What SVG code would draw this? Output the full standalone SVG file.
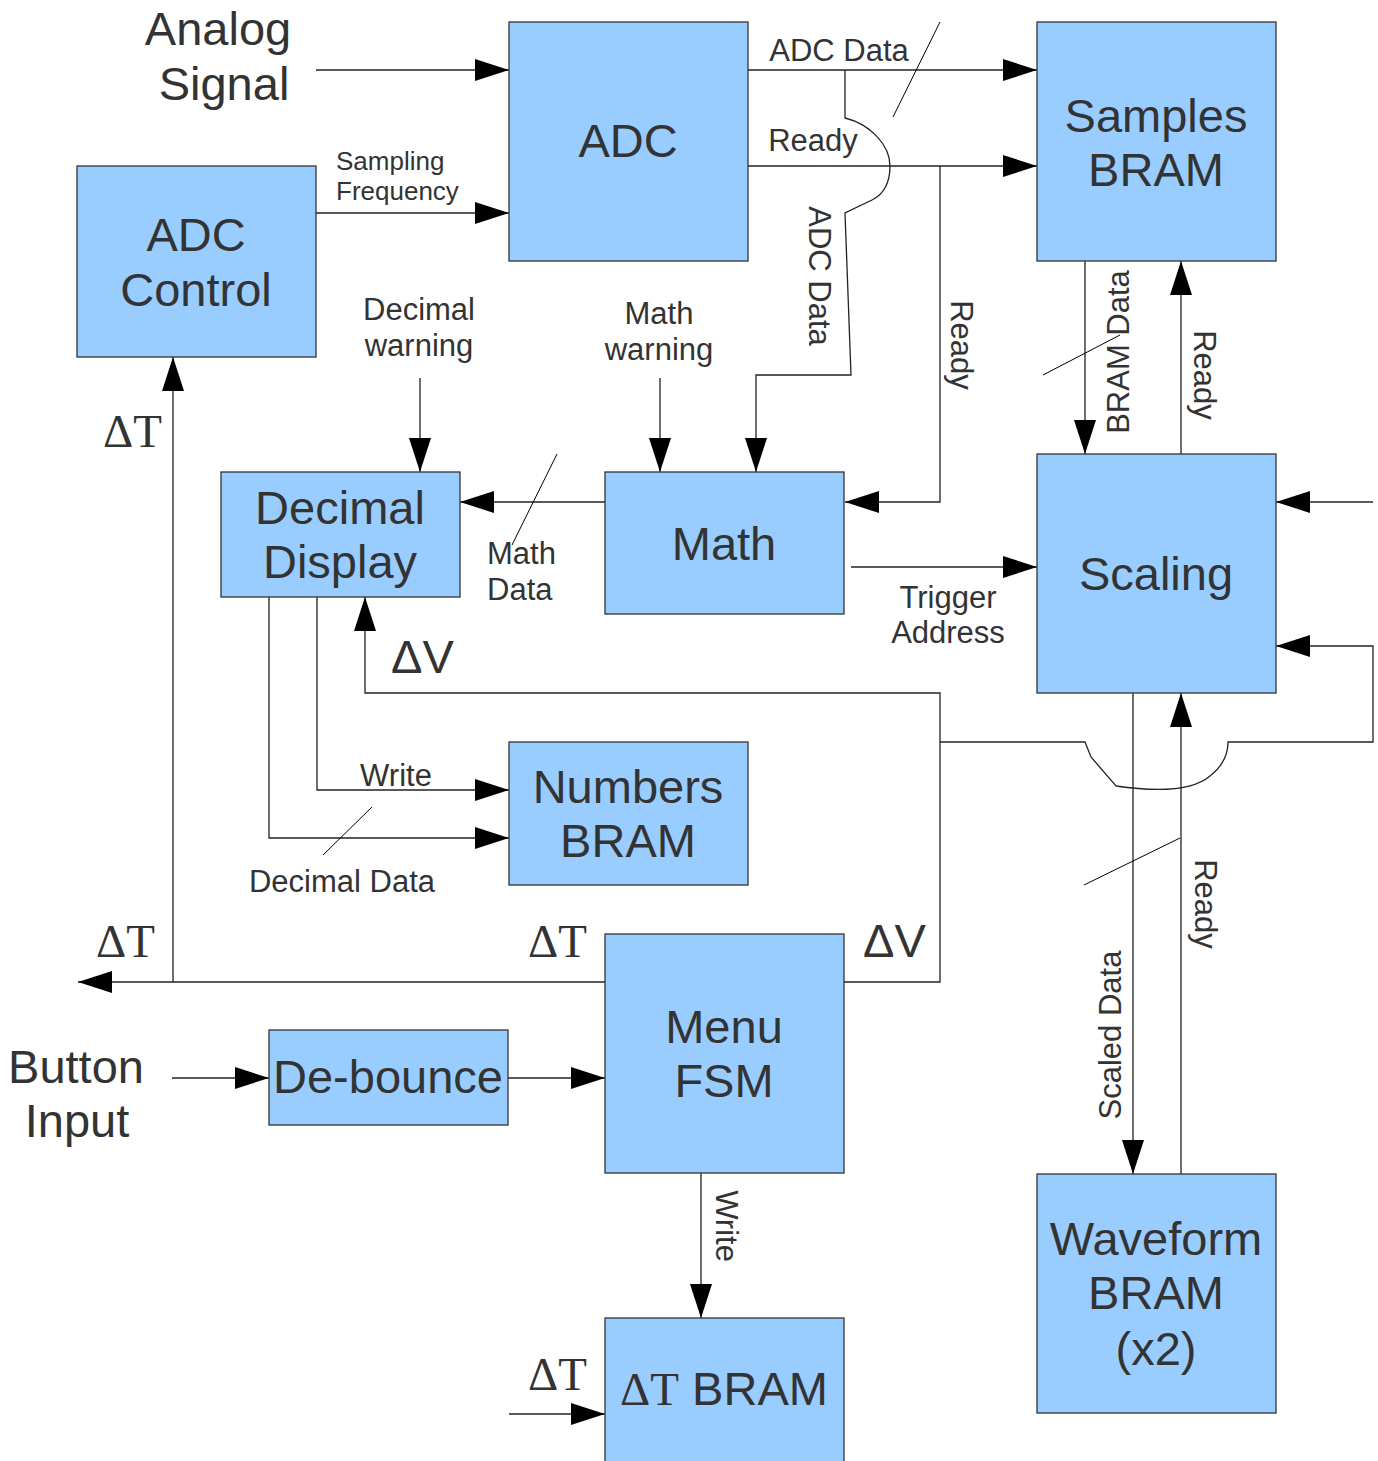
<svg xmlns="http://www.w3.org/2000/svg" width="1378" height="1461" viewBox="0 0 1378 1461">
<style>
.box{fill:#99ccff;stroke:#333;stroke-width:1.3}
.nt{font-family:"Liberation Sans",Arial,sans-serif;font-size:47px;fill:#333;text-anchor:middle}
.lt{font-family:"Liberation Sans",Arial,sans-serif;font-size:31px;fill:#333;text-anchor:middle}
.st{font-family:"Liberation Sans",Arial,sans-serif;font-size:26px;fill:#333}
.dl{font-family:"Liberation Serif","Times New Roman",serif;font-size:47px;fill:#333}
.dv{font-family:"Liberation Sans",Arial,sans-serif;font-size:47px;fill:#333}
.w{fill:none;stroke:#222;stroke-width:1.3}
.a{marker-end:url(#ah)}
.sl{fill:none;stroke:#000;stroke-width:1}
</style>
<defs>
<marker id="ah" markerUnits="userSpaceOnUse" markerWidth="34" markerHeight="22" refX="34" refY="11" orient="auto" viewBox="0 0 34 22">
<path d="M0,0 L34,11 L0,22 z" fill="#000"/>
</marker>
</defs>

<g id="connectors">
<path class="w a" d="M316,70 H509"/>
<path class="w a" d="M748,70 H1037"/>
<path class="w a" d="M748,166 H1037"/>
<path class="w a" d="M316,213 H509"/>
<path class="w a" d="M845,70 V118 C870,124 890,145 890,166 C890,185 882,195 872,200 L845,213 L851,375 H756 V472"/>
<path class="w a" d="M940,166 V502 H845"/>
<path class="w a" d="M605,502 H460"/>
<path class="w a" d="M420,378 V472"/>
<path class="w a" d="M660,378 V472"/>
<path class="w a" d="M851,567 H1037"/>
<path class="w a" d="M1085,261 V454"/>
<path class="w a" d="M1181,454 V261"/>
<path class="w a" d="M1373,502 H1276"/>
<path class="w a" d="M844,982 H940 V693 H365 V597"/>
<path class="w a" d="M940,742 H1085 L1091,757 L1116,786 C1150,791 1190,793 1210,776 C1224,765 1228,752 1228,742 H1373 V646 H1276"/>
<path class="w a" d="M1133,693 V1174"/>
<path class="w a" d="M1181,1174 V693"/>
<path class="w a" d="M317,597 V790 H509"/>
<path class="w a" d="M269,597 V838 H509"/>
<path class="w a" d="M605,982 H78"/>
<path class="w a" d="M173,982 V357"/>
<path class="w a" d="M172,1078 H269"/>
<path class="w a" d="M508,1078 H605"/>
<path class="w a" d="M701,1173 V1318"/>
<path class="w a" d="M509,1414 H605"/>
<line class="sl" x1="940" y1="22" x2="893" y2="117"/>
<line class="sl" x1="557" y1="454" x2="512" y2="545"/>
<line class="sl" x1="1043" y1="375" x2="1120" y2="335"/>
<line class="sl" x1="1084" y1="885" x2="1180" y2="838"/>
<line class="sl" x1="372" y1="807" x2="323" y2="855"/>
</g>

<g id="labels">
<text class="nt" x="218" y="45">Analog</text>
<text class="nt" x="224" y="100">Signal</text>
<text class="nt" x="76" y="1083">Button</text>
<text class="nt" x="77" y="1137">Input</text>
<text class="lt" x="839" y="61">ADC Data</text>
<text class="lt" x="813" y="151">Ready</text>
<text class="st" x="336" y="170">Sampling</text>
<text class="st" x="336" y="200">Frequency</text>
<text class="lt" x="419" y="320">Decimal</text>
<text class="lt" x="419" y="356">warning</text>
<text class="lt" x="659" y="324">Math</text>
<text class="lt" x="659" y="360">warning</text>
<text class="lt" x="487" y="564" style="text-anchor:start">Math</text>
<text class="lt" x="487" y="600" style="text-anchor:start">Data</text>
<text class="lt" x="948" y="608">Trigger</text>
<text class="lt" x="948" y="643">Address</text>
<text class="lt" x="396" y="786">Write</text>
<text class="lt" x="342" y="892">Decimal Data</text>
<text class="lt" transform="translate(809,276) rotate(90)">ADC Data</text>
<text class="lt" transform="translate(951,345) rotate(90)">Ready</text>
<text class="lt" transform="translate(1129,352) rotate(-90)">BRAM Data</text>
<text class="lt" transform="translate(1194,375) rotate(90)">Ready</text>
<text class="lt" transform="translate(1121,1035) rotate(-90)">Scaled Data</text>
<text class="lt" transform="translate(1195,904) rotate(90)">Ready</text>
<text class="lt" transform="translate(716,1226) rotate(90)">Write</text>
<text class="dl" x="103" y="447">ΔT</text>
<text class="dl" x="96" y="957">ΔT</text>
<text class="dl" x="528" y="957">ΔT</text>
<text class="dv" x="863" y="957">ΔV</text>
<text class="dv" x="391" y="673">ΔV</text>
<text class="dl" x="528" y="1390">ΔT</text>
</g>

<g id="adc"><rect class="box" x="509" y="22" width="239" height="239"/><text class="nt" x="628" y="157">ADC</text></g>
<g id="samples-bram"><rect class="box" x="1037" y="22" width="239" height="239"/><text class="nt" x="1156" y="132">Samples</text><text class="nt" x="1156" y="186">BRAM</text></g>
<g id="adc-control"><rect class="box" x="77" y="166" width="239" height="191"/><text class="nt" x="196" y="251">ADC</text><text class="nt" x="196" y="306">Control</text></g>
<g id="decimal-display"><rect class="box" x="221" y="472" width="239" height="125"/><text class="nt" x="340" y="524">Decimal</text><text class="nt" x="340" y="578">Display</text></g>
<g id="math"><rect class="box" x="605" y="472" width="239" height="142"/><text class="nt" x="724" y="560">Math</text></g>
<g id="scaling"><rect class="box" x="1037" y="454" width="239" height="239"/><text class="nt" x="1156" y="590">Scaling</text></g>
<g id="numbers-bram"><rect class="box" x="509" y="742" width="239" height="143"/><text class="nt" x="628" y="803">Numbers</text><text class="nt" x="628" y="857">BRAM</text></g>
<g id="menu-fsm"><rect class="box" x="605" y="934" width="239" height="239"/><text class="nt" x="724" y="1043">Menu</text><text class="nt" x="724" y="1097">FSM</text></g>
<g id="debounce"><rect class="box" x="269" y="1030" width="239" height="95"/><text class="nt" x="388" y="1093">De-bounce</text></g>
<g id="waveform-bram"><rect class="box" x="1037" y="1174" width="239" height="239"/><text class="nt" x="1156" y="1255">Waveform</text><text class="nt" x="1156" y="1309">BRAM</text><text class="nt" x="1156" y="1365">(x2)</text></g>
<g id="dt-bram"><rect class="box" x="605" y="1318" width="239" height="160"/><text class="nt" x="724" y="1405"><tspan style="font-family:'Liberation Serif','Times New Roman',serif">ΔT</tspan> BRAM</text></g>
</svg>
